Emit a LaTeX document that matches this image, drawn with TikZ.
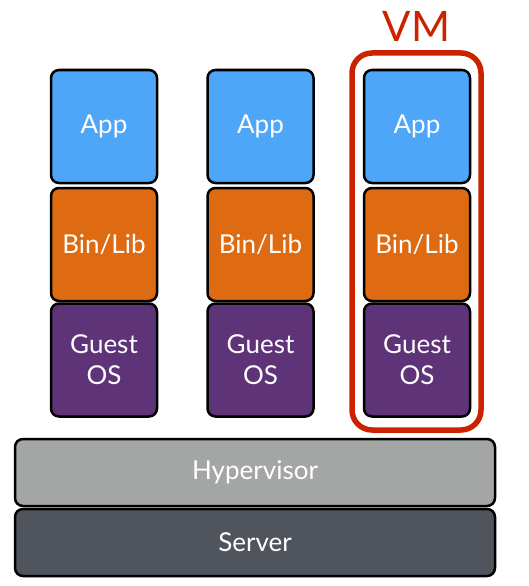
\documentclass[tikz,border=0pt]{standalone}
\usepackage{fontspec}
\setmainfont{Lato}
\definecolor{appblue}{HTML}{4EA6F8}
\definecolor{libor}{HTML}{DE6A12}
\definecolor{ospurple}{HTML}{5E3378}
\definecolor{hypgray}{HTML}{A3A6A4}
\definecolor{srvgray}{HTML}{50545C}
\definecolor{vmred}{HTML}{CC2200}
\begin{document}
\begin{tikzpicture}[x=1pt,y=-1pt,
  layer/.style={draw=black,line width=2.5pt,rounded corners=8pt,text=white,
    align=center,inner sep=0pt,font=\fontsize{26}{31}\selectfont},
  tile/.style={layer,minimum width=106pt,minimum height=113pt},
  slab/.style={layer,minimum width=480pt,minimum height=67pt}]
\useasboundingbox (0,0) rectangle (529,586);
% the three stacks
\node[tile,fill=appblue] (app1) at (104,126.5) {App};
\node[tile,fill=libor] (lib1) at (104,244.5) {Bin/Lib};
\node[tile,fill=ospurple] (os1) at (104,360) {Guest\\OS};
\node[tile,fill=appblue] (app2) at (260.5,126.5) {App};
\node[tile,fill=libor] (lib2) at (260.5,244.5) {Bin/Lib};
\node[tile,fill=ospurple] (os2) at (260.5,360) {Guest\\OS};
\node[tile,fill=appblue] (app3) at (417,126.5) {App};
\node[tile,fill=libor] (lib3) at (417,244.5) {Bin/Lib};
\node[tile,fill=ospurple] (os3) at (417,360) {Guest\\OS};
% shared layers
\node[slab,fill=hypgray] (hyp) at (255,472.5) {Hypervisor};
\node[slab,fill=srvgray] (srv) at (255,542.5) {Server};
% the VM frame
\draw[vmred,line width=5.5pt,rounded corners=20pt] (352,53) rectangle (481,430);
\node[text=vmred,font=\fontsize{42}{46}\selectfont,inner sep=0pt] (vm) at (416.5,26) {VM};
\end{tikzpicture}
\end{document}
